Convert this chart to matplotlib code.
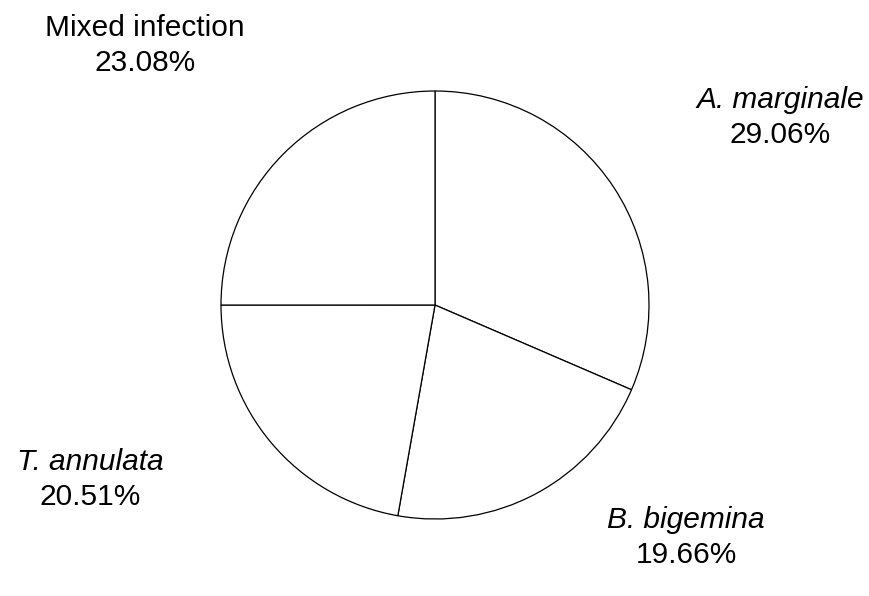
import matplotlib
matplotlib.use("Agg")
import matplotlib.pyplot as plt

# share of positive samples per infection type (%)
names = ["A. marginale", "B. bigemina", "T. annulata", "Mixed infection"]
shares = [29.06, 19.66, 20.51, 23.08]
italic = [True, True, True, False]

plt.rcParams["font.family"] = ["Liberation Sans", "DejaVu Sans"]

W, H = 870, 596
fig = plt.figure(figsize=(W / 100, H / 100), dpi=100)
ax = fig.add_axes([0, 0, 1, 1])

ax.pie(
    shares,
    center=(435, H - 305),
    radius=214,
    startangle=90,
    counterclock=False,
    colors=["white"] * len(shares),
    wedgeprops={"edgecolor": "black", "linewidth": 0.9},
    frame=True,
)
ax.set_xlim(0, W)
ax.set_ylim(0, H)
ax.set_aspect("equal")
ax.axis("off")

# label anchors in pixels from top-left (name line, percentage below it)
label_pos = [(780, 100), (686, 520), (90, 462), (145, 28)]
for name, share, it, (x, y) in zip(names, shares, italic, label_pos):
    ax.text(x, H - y, name, ha="center", va="center", fontsize=21.5,
            style="italic" if it else "normal")
    ax.text(x, H - y - 35, f"{share:.2f}%", ha="center", va="center",
            fontsize=21.5)

fig.savefig("out.png", dpi=100, facecolor="white")
